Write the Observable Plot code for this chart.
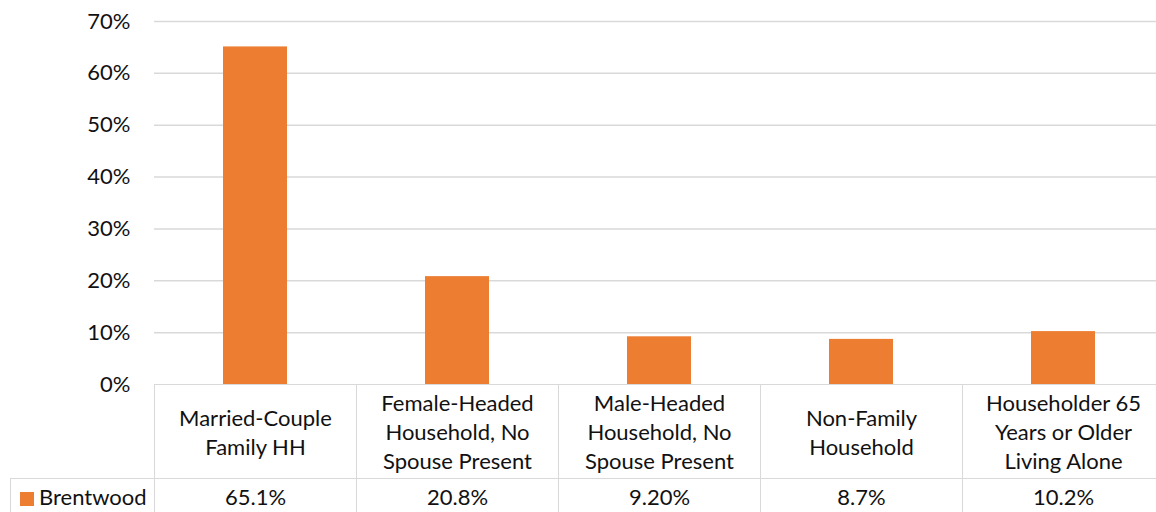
<!DOCTYPE html>
<html><head><meta charset="utf-8">
<script src="https://cdn.jsdelivr.net/npm/d3@7"></script>
<script src="https://cdn.jsdelivr.net/npm/@observablehq/plot@0.6"></script>
<style>
html,body{margin:0;padding:0;background:#fff;overflow:hidden;width:1156px;height:512px}
#wrap{position:relative;width:1166px;height:512px;font-family:Lato,sans-serif;color:#111}
#chart svg{overflow:visible;display:block}
#tbl{position:absolute;left:10px;top:384px;border-collapse:collapse;table-layout:fixed;font-size:22px;color:#111}
#tbl td{border:1px solid #d9d9d9;text-align:center;padding:0;white-space:pre-line;line-height:29px}
#tbl tr.hdr td{height:93px}
#tbl tr.hdr td.blank{border-top:none;border-left:none;border-bottom:1px solid #d9d9d9}
#tbl tr.dat td{height:35px}
#tbl td.leg{text-align:left;padding-left:9px}
.sw{display:inline-block;width:14px;height:14px;margin-right:5px;vertical-align:-1px}
</style></head>
<body><div id="wrap"><div id="chart"></div><table id="tbl"></table></div>
<script>
const categories = ["Married-Couple Family HH","Female-Headed Household, No Spouse Present","Male-Headed Household, No Spouse Present","Non-Family Household","Householder 65 Years or Older Living Alone"];
const labelLines = ["Married-Couple\nFamily HH","Female-Headed\nHousehold, No\nSpouse Present","Male-Headed\nHousehold, No\nSpouse Present","Non-Family\nHousehold","Householder 65\nYears or Older\nLiving Alone"];
const seriesName = "Brentwood";
const values = [65.1, 20.8, 9.2, 8.7, 10.2];
const valueLabels = ["65.1%","20.8%","9.20%","8.7%","10.2%"];
const yTicks = [0,10,20,30,40,50,60,70];
const color = "#ED7D31";

const data = categories.map((c,i)=>({category:c, value:values[i]}));

const plot = Plot.plot({
  width: 1166, height: 400,
  marginLeft: 154, marginRight: 2, marginTop: 21, marginBottom: 16,
  style: {fontFamily: "Lato, sans-serif", fontSize: "22px", color: "#111", background: "transparent"},
  x: {domain: categories, paddingInner: 0.683, paddingOuter: 0.3415, axis: null},
  y: {domain: [0,70], axis: null, label: null},
  marks: [
    Plot.gridY(yTicks.filter(t=>t>0), {stroke: "#d9d9d9", strokeOpacity: 1, strokeWidth: 1.5}),
    Plot.barY(data, {x: "category", y: "value", fill: color}),
    Plot.axisY(yTicks, {tickSize: 0, tickPadding: 24, tickFormat: d => d + "%", fill: "#111", fontSize: 22, label: null})
  ]
});
document.getElementById("chart").appendChild(plot);

const tbl = document.getElementById("tbl");
const cg = document.createElement("colgroup");
[144,202,202,202,202,202].forEach(w=>{const c=document.createElement("col");c.style.width=w+"px";cg.appendChild(c);});
tbl.appendChild(cg);
const tr1 = document.createElement("tr"); tr1.className="hdr";
const b = document.createElement("td"); b.className="blank"; tr1.appendChild(b);
labelLines.forEach(l=>{const td=document.createElement("td");td.textContent=l;tr1.appendChild(td);});
tbl.appendChild(tr1);
const tr2 = document.createElement("tr"); tr2.className="dat";
const lg = document.createElement("td"); lg.className="leg";
lg.innerHTML = `<span class="sw" style="background:${color}"></span>${seriesName}`;
tr2.appendChild(lg);
valueLabels.forEach(v=>{const td=document.createElement("td");td.textContent=v;tr2.appendChild(td);});
tbl.appendChild(tr2);
</script></body></html>
